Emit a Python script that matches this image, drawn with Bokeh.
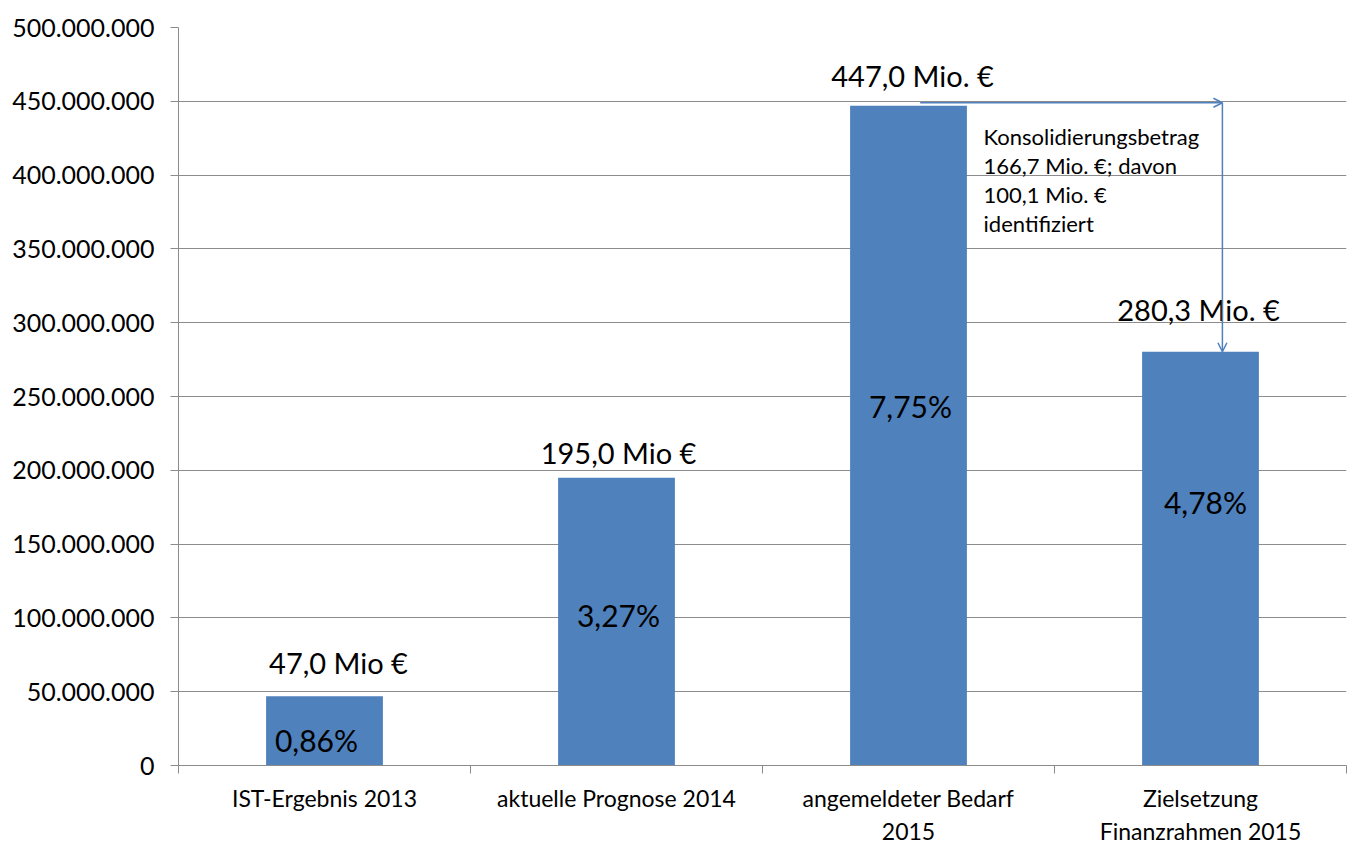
from bokeh.plotting import figure
from bokeh.models import ColumnDataSource, Range1d, FixedTicker, Arrow, OpenHead
from bokeh.core.properties import value
from bokeh.embed import file_html
from bokeh.resources import INLINE

# --- data -------------------------------------------------------------
categories = [
    "IST-Ergebnis 2013",
    "aktuelle Prognose 2014",
    "angemeldeter Bedarf\n2015",
    "Zielsetzung\nFinanzrahmen 2015",
]
amounts = [47.0e6, 195.0e6, 447.0e6, 280.3e6]
amount_labels = ["47,0 Mio €", "195,0 Mio €", "447,0 Mio. €", "280,3 Mio. €"]
share_labels = ["0,86%", "3,27%", "7,75%", "4,78%"]

y_ticks = [0, 50000000, 100000000, 150000000, 200000000, 250000000,
           300000000, 350000000, 400000000, 450000000, 500000000]
y_tick_labels = ["0", "50.000.000", "100.000.000", "150.000.000", "200.000.000",
                 "250.000.000", "300.000.000", "350.000.000", "400.000.000",
                 "450.000.000", "500.000.000"]

note_lines = ["Konsolidierungsbetrag", "166,7 Mio. €; davon", "100,1 Mio. €", "identifiziert"]

# --- styling ----------------------------------------------------------
FONT = "Lato"
BAR = "#4F81BD"
GRID = "#8c8c8c"
ARROW = "#4F81BD"

centers = [i + 0.5 for i in range(len(categories))]

p = figure(
    width=1354, height=848,
    x_range=Range1d(0, len(categories)), y_range=Range1d(0, 500e6),
    output_backend="svg", toolbar_location=None,
    min_border_left=178, min_border_right=8, min_border_top=27, min_border_bottom=82,
)
p.outline_line_color = None
p.background_fill_color = "white"
p.border_fill_color = "white"

# bars
bars = ColumnDataSource(dict(
    x=centers, top=amounts, amount_label=amount_labels, share_label=share_labels,
    mid=[a / 2 for a in amounts],
    ax_off=[14, 2, 4, -2], ay_off=[-34, -25, -30, -42],
    sx_off=[-8, 2, 2, 5], sy_off=[9, -7, -30, -57],
))
p.vbar(x="x", top="top", width=0.4, source=bars, fill_color=BAR, line_color=None)

# value labels above the bars
p.text(x="x", y="top", text="amount_label", x_offset="ax_off", y_offset="ay_off",
       source=bars, text_align="center", text_baseline="middle",
       text_font=value(FONT), text_font_size="29px", text_color="black")

# share labels inside the bars
p.text(x="x", y="mid", text="share_label", x_offset="sx_off", y_offset="sy_off",
       source=bars, text_align="center", text_baseline="middle",
       text_font=value(FONT), text_font_size="30px", text_color="black")

# consolidation arrow from the requested amount down to the target frame
arrow_top = 449e6
arrow_x0 = centers[2] + 0.04
arrow_x1 = centers[3] + 0.075
head = dict(size=9, line_color=ARROW, line_width=1.5)
p.add_layout(Arrow(end=OpenHead(**head), x_start=arrow_x0, y_start=arrow_top,
                   x_end=arrow_x1, y_end=arrow_top, line_color=ARROW, line_width=1.5))
p.add_layout(Arrow(end=OpenHead(**head), x_start=arrow_x1, y_start=arrow_top,
                   x_end=arrow_x1, y_end=amounts[3], line_color=ARROW, line_width=1.5))

# note next to the arrow
note = ColumnDataSource(dict(
    x=[centers[2] + 0.257] * len(note_lines), y=[arrow_top] * len(note_lines),
    text=note_lines, dy=[34, 63, 92, 121],
))
p.text(x="x", y="y", text="text", y_offset="dy", source=note,
       text_align="left", text_baseline="middle",
       text_font=value(FONT), text_font_size="22px", text_color="black")

# y axis & grid
p.yaxis.ticker = FixedTicker(ticks=y_ticks)
p.yaxis.major_label_overrides = dict(zip(y_ticks, y_tick_labels))
p.yaxis.major_label_text_font = FONT
p.yaxis.major_label_text_font_size = "25px"
p.yaxis.major_label_text_color = "black"
p.yaxis.major_label_standoff = 16
p.yaxis.axis_line_color = GRID
p.yaxis.major_tick_line_color = GRID
p.yaxis.major_tick_out = 8
p.yaxis.major_tick_in = 0
p.yaxis.minor_tick_line_color = None

p.ygrid.ticker = FixedTicker(ticks=y_ticks)
p.ygrid.grid_line_color = GRID
p.ygrid.grid_line_width = 1
p.xgrid.grid_line_color = None

# x axis: labels at centres, ticks at category boundaries
p.xaxis.ticker = FixedTicker(ticks=centers, minor_ticks=list(range(len(categories) + 1)))
p.xaxis.major_label_overrides = dict(zip(centers, categories))
p.xaxis.major_label_text_font = FONT
p.xaxis.major_label_text_font_size = "23px"
p.xaxis.major_label_text_color = "black"
p.xaxis.major_label_standoff = 10
p.xaxis.major_tick_line_color = None
p.xaxis.minor_tick_line_color = GRID
p.xaxis.minor_tick_out = 8
p.xaxis.minor_tick_in = 0
p.xaxis.axis_line_color = GRID

open("out.html", "w").write(file_html(p, INLINE))
